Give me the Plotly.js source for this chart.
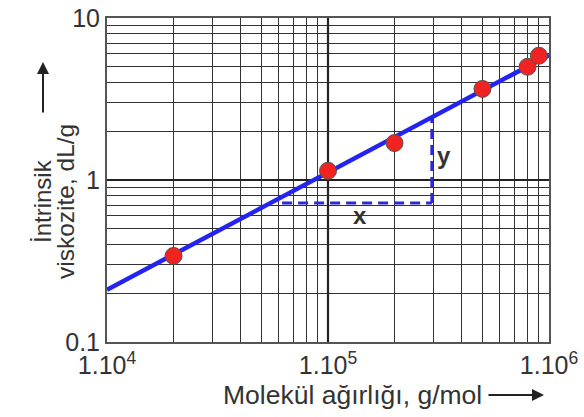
<!DOCTYPE html>
<html><head><meta charset="utf-8">
<script src="https://cdn.plot.ly/plotly-3.0.1.min.js"></script>
<style>html,body{margin:0;padding:0;background:#fff}</style>
</head><body><div id="chart" style="width:584px;height:417px"></div>
<script>
// Data
const molWeight = [2e4, 1e5, 2e5, 5e5, 8e5, 9e5];
const viscosity = [0.34, 1.14, 1.69, 3.65, 5.0, 5.85];
const fitX = [1e4, 1e6];
const fitY = [0.21, 5.9];
const dashHX = [6.2e4, 2.95e5];
const dashHY = [0.72, 0.72];
const dashVX = [2.95e5, 2.95e5];
const dashVY = [0.72, 2.44];
const xTickVals = [1e4,2e4,3e4,4e4,5e4,6e4,7e4,8e4,9e4,1e5,2e5,3e5,4e5,5e5,6e5,7e5,8e5,9e5,1e6];
const xTickText = ['1.10<sup>4</sup>','','','','','','','','','1.10<sup>5</sup>','','','','','','','','','1.10<sup>6</sup>'];
const yTickVals = [0.1,0.2,0.3,0.4,0.5,0.6,0.7,0.8,0.9,1,2,3,4,5,6,7,8,9,10];
const yTickText = ['0.1','','','','','','','','','1','','','','','','','','','10'];
const xTitle = 'Molekül ağırlığı, g/mol';
const yTitle1 = 'İntrinsik';
const yTitle2 = 'viskozite, dL/g';

const font = 'Liberation Sans, Arial, sans-serif';
const txt = '#333';
const L=107, R=549, T=18, B=342;
const px = v => (v-L)/(R-L);
const py = v => (B-v)/(B-T);

const traces = [
  {x:[1e5,1e5], y:[0.1,10], mode:'lines', line:{color:'#222', width:2.2}, hoverinfo:'skip'},
  {x:[1e4,1e6], y:[1,1], mode:'lines', line:{color:'#222', width:2.2}, hoverinfo:'skip'},
  {x:dashHX, y:dashHY, mode:'lines', line:{color:'#2a2ad8', width:3, dash:'10px,6px'}},
  {x:dashVX, y:dashVY, mode:'lines', line:{color:'#2a2ad8', width:3, dash:'10px,6px'}},
  {x:fitX, y:fitY, mode:'lines', line:{color:'#2424f0', width:4.5}},
  {x:molWeight, y:viscosity, mode:'markers', marker:{color:'#f02222', size:17, line:{color:'#555', width:1}}}
];

const layout = {
  width:584, height:417,
  margin:{l:L, r:584-R, t:T, b:417-B},
  showlegend:false,
  paper_bgcolor:'#fff', plot_bgcolor:'#fff',
  font:{family:font, color:txt, size:25},
  xaxis:{type:'log', range:[4,6], tickvals:xTickVals, ticktext:xTickText, ticks:'',
    showgrid:true, gridcolor:'#333', gridwidth:1, showline:true, mirror:true, linecolor:'#555', linewidth:2,
    tickfont:{size:25, color:txt, family:font}, fixedrange:true},
  yaxis:{type:'log', range:[-1,1], tickvals:yTickVals, ticktext:yTickText, ticks:'',
    showgrid:true, gridcolor:'#333', gridwidth:1, showline:true, mirror:true, linecolor:'#555', linewidth:2,
    tickfont:{size:25, color:txt, family:font}, fixedrange:true},
  annotations:[
    {xref:'paper', yref:'paper', x:px(352), y:py(395), text:xTitle, showarrow:false,
      font:{size:26.5, color:txt, family:font}, xanchor:'center', yanchor:'middle'},
    {xref:'paper', yref:'paper', x:px(544), y:py(395), ax:px(487), ay:py(395), axref:'paper', ayref:'paper',
      text:'', showarrow:true, arrowhead:2, arrowsize:1.2, arrowwidth:2, arrowcolor:'#222'},
    {xref:'paper', yref:'paper', x:px(42), y:py(201), text:yTitle1, textangle:-90, showarrow:false,
      font:{size:24, color:txt, family:font}, xanchor:'center', yanchor:'middle'},
    {xref:'paper', yref:'paper', x:px(65), y:py(202), text:yTitle2, textangle:-90, showarrow:false,
      font:{size:24.5, color:txt, family:font}, xanchor:'center', yanchor:'middle'},
    {xref:'paper', yref:'paper', x:px(43), y:py(62), ax:px(43), ay:py(114), axref:'paper', ayref:'paper',
      text:'', showarrow:true, arrowhead:2, arrowsize:1.2, arrowwidth:2, arrowcolor:'#222'},
    {xref:'paper', yref:'paper', x:px(360), y:py(215), text:'<b>x</b>', showarrow:false,
      font:{size:24, color:txt, family:font}, xanchor:'center', yanchor:'middle'},
    {xref:'paper', yref:'paper', x:px(444), y:py(155), text:'<b>y</b>', showarrow:false,
      font:{size:24, color:txt, family:font}, xanchor:'center', yanchor:'middle'}
  ]
};
Plotly.newPlot('chart', traces, layout, {displayModeBar:false, staticPlot:true});
</script></body></html>
